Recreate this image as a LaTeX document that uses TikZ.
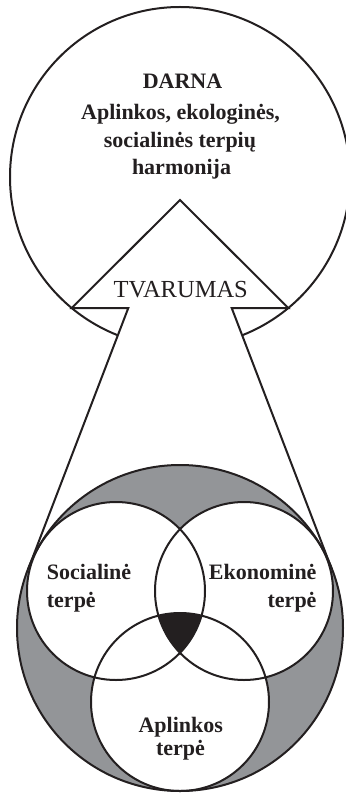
\documentclass[tikz,border=0pt]{standalone}
\usepackage{fontspec}
\setmainfont{Liberation Serif}
\usetikzlibrary{calc}
\definecolor{ink}{HTML}{231F20}
\definecolor{venngray}{HTML}{939598}
\begin{document}
\begin{tikzpicture}[x=1pt,y=-1pt,
  outline/.style={draw=ink, line width=2pt},
  lbl/.style={inner sep=0pt, text=ink, font=\bfseries\fontsize{22}{26}\selectfont},
  big/.style={inner sep=0pt, text=ink, font=\fontsize{24.5}{28}\selectfont}]
\useasboundingbox (0,0) rectangle (345,794);
% ---- top circle (DARNA) with notch and funnel
\coordinate (tc) at (180,177);
\coordinate (cl) at (71.7,308);
\coordinate (cr) at (288.3,308);
\coordinate (apex) at (180,200);
\coordinate (fl) at (128.3,308);
\coordinate (fr) at (231.7,308);
\coordinate (tl) at (28.0,569.6);
\coordinate (tr) at (332.0,569.6);
\draw[outline] (tc) circle[radius=170pt];
\fill[white] (fl) -- (fr) -- ($(fr)!0.4!(tr)$) -- ($(fl)!0.4!(tl)$) -- cycle;
% ---- Venn diagram
\coordinate (vc) at (180,628);
\coordinate (cs) at (116,591);
\coordinate (ce) at (244,591);
\coordinate (ca) at (180,702);
\fill[venngray] (vc) circle[radius=163pt];
\fill[white] (cs) circle[radius=89pt] (ce) circle[radius=89pt] (ca) circle[radius=89pt];
\begin{scope}
  \clip (cs) circle[radius=89pt];
  \clip (ce) circle[radius=89pt];
  \fill[ink] (ca) circle[radius=89pt];
\end{scope}
\draw[outline] (vc) circle[radius=163pt];
\draw[outline] (cs) circle[radius=89pt];
\draw[outline] (ce) circle[radius=89pt];
\draw[outline] (ca) circle[radius=89pt];
% ---- funnel lines and triangle notch
\draw[outline] (tl) -- (fl) -- (cl) -- (apex) -- (cr) -- (fr) -- (tr);
% ---- texts
\node[lbl, anchor=base] (darna) at (182.5,88.3) {DARNA};
\node[lbl, anchor=base] (t1) at (180.5,119.3) {Aplinkos, ekologinės,};
\node[lbl, anchor=base] (t2) at (180,147.3) {socialinės terpių};
\node[lbl, anchor=base] (t3) at (181.5,175) {harmonija};
\node[big, anchor=base] (tvar) at (180.7,297) {TVARUMAS};
\node[lbl, anchor=base west] (s1) at (46.7,579) {Socialinė};
\node[lbl, anchor=base west] (s2) at (46.7,607) {terpė};
\node[lbl, anchor=base east] (e1) at (316.7,579) {Ekonominė};
\node[lbl, anchor=base east] (e2) at (316.7,607) {terpė};
\node[lbl, anchor=base] (a1) at (180.8,732) {Aplinkos};
\node[lbl, anchor=base] (a2) at (180.5,755) {terpė};
\end{tikzpicture}
\end{document}
